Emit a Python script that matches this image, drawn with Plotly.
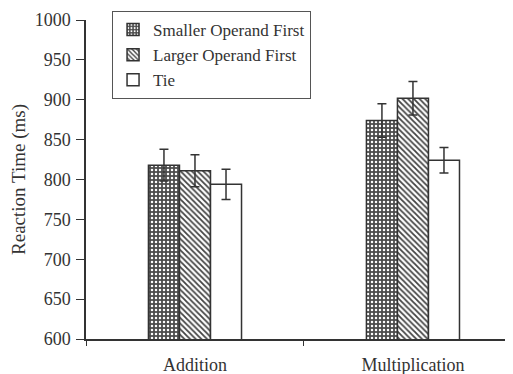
import plotly.graph_objects as go

categories = ["Addition", "Multiplication"]
series_names = ["Smaller Operand First", "Larger Operand First", "Tie"]
smaller_vals = [818, 874]
smaller_err = [20, 21]
larger_vals = [811, 902]
larger_err = [20, 21]
tie_vals = [794, 824]
tie_err = [19, 16]
y_ticks = [600, 650, 700, 750, 800, 850, 900, 950, 1000]

FONT = "Liberation Serif"
INK = "#333333"

patterns = [
    dict(shape=".", bgcolor="#4d4d4d", fgcolor="#ffffff", size=4, solidity=0.3, fillmode="replace"),
    dict(shape="\\", bgcolor="#ffffff", fgcolor="#444444", size=4, solidity=0.45, fillmode="replace"),
    dict(shape="", bgcolor="#ffffff", fgcolor="#ffffff"),
]
values = [smaller_vals, larger_vals, tie_vals]
errors = [smaller_err, larger_err, tie_err]

fig = go.Figure()
for name, v, e, p in zip(series_names, values, errors, patterns):
    fig.add_trace(go.Bar(
        x=categories, y=v, name=name,
        marker=dict(color="#ffffff", pattern=p, line=dict(color=INK, width=1.5)),
        error_y=dict(type="data", array=e, visible=True, color=INK, thickness=1.5, width=4.5),
    ))

# page body has an 8px margin, so the figure is sized and offset to compensate
fig.update_layout(
    width=505, height=366,
    margin=dict(l=78, r=0, t=12, b=35),
    paper_bgcolor="white", plot_bgcolor="white",
    barmode="group", bargap=0.573, bargroupgap=0,
    font=dict(family=FONT, size=17, color=INK),
    showlegend=True,
    legend=dict(x=0.061, y=1.028, xanchor="left", yanchor="top",
                bordercolor="#555555", borderwidth=1, bgcolor="white",
                font=dict(family=FONT, size=17, color=INK), tracegroupgap=0),
    xaxis=dict(range=[-0.5, 1.459], showline=True, linecolor=INK, linewidth=1.5,
               ticks="outside", tickson="boundaries", ticklen=5, tickcolor=INK,
               showgrid=False, zeroline=False, ticklabelstandoff=9, automargin=False,
               tickfont=dict(family=FONT, size=18, color=INK)),
    yaxis=dict(range=[600, 1000], tickvals=y_ticks, showline=True, linecolor=INK, linewidth=1.5,
               ticks="outside", ticklen=8, tickcolor=INK, showgrid=False, zeroline=False,
               automargin=False, ticklabelstandoff=2,
               title=dict(text="Reaction Time (ms)", font=dict(family=FONT, size=19, color=INK), standoff=8),
               tickfont=dict(family=FONT, size=18, color=INK)),
)

fig.write_html("out.html")
